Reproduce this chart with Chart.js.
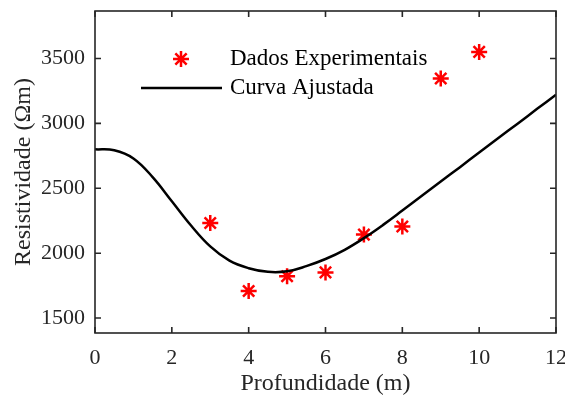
<!DOCTYPE html>
<html>
<head>
<meta charset="utf-8">
<script src="https://cdn.jsdelivr.net/npm/chart.js@4.4.1/dist/chart.umd.min.js"></script>
<style>
  html, body { margin: 0; padding: 0; background: #fff; }
  #wrap { width: 565px; height: 396px; }
</style>
</head>
<body>
<div id="wrap"><canvas id="resChart" width="565" height="396"></canvas></div>
<script>
// measured data (depth in m, resistivity in ohm.m)
const depth = [3, 4, 5, 6, 7, 8, 9, 10];
const resistivity = [2233, 1708, 1822, 1852, 2143, 2205, 3346, 3551];

// fitted curve
const fitDepth = [0, 0.5, 1, 1.5, 2, 2.5, 3, 3.5, 4, 4.5, 5, 5.5, 6, 6.5, 7, 7.5, 8, 8.5, 9, 9.5, 10, 10.5, 11, 11.5, 12];
const fitRes = [2800, 2793, 2730, 2586, 2400, 2213, 2052, 1942, 1884, 1856, 1860, 1900, 1955, 2026, 2116, 2218, 2328, 2440, 2552, 2663, 2775, 2887, 2998, 3110, 3221];

const xTicks = [0, 2, 4, 6, 8, 10, 12];
const yTicks = [1500, 2000, 2500, 3000, 3500];

const seriesNames = ['Dados Experimentais', 'Curva Ajustada'];

const AXIS_COLOR = '#262626';
const FONT = '"Liberation Serif", "Times New Roman", serif';

// box round the plot with ticks pointing inward, like matlab
const boxTicks = {
    id: 'boxTicks',
    afterDraw(chart) {
        const { ctx, chartArea: a, scales } = chart;
        const len = 6;
        ctx.save();
        ctx.strokeStyle = AXIS_COLOR;
        ctx.lineWidth = 1.6;
        ctx.strokeRect(a.left, a.top, a.right - a.left, a.bottom - a.top);
        ctx.beginPath();
        xTicks.forEach(v => {
            const px = scales.x.getPixelForValue(v);
            ctx.moveTo(px, a.bottom); ctx.lineTo(px, a.bottom - len);
            ctx.moveTo(px, a.top); ctx.lineTo(px, a.top + len);
        });
        yTicks.forEach(v => {
            const py = scales.y.getPixelForValue(v);
            ctx.moveTo(a.left, py); ctx.lineTo(a.left + len, py);
            ctx.moveTo(a.right, py); ctx.lineTo(a.right - len, py);
        });
        ctx.stroke();
        ctx.restore();
    }
};

// legend inside the plot, no frame
const innerLegend = {
    id: 'innerLegend',
    afterDraw(chart) {
        const { ctx, chartArea: a } = chart;
        const x0 = a.left + 46;
        const textX = a.left + 135;
        const y1 = a.top + 48;
        const y2 = a.top + 77;
        ctx.save();
        // star marker
        ctx.strokeStyle = '#ff0000';
        ctx.lineWidth = 2.5;
        const cx = x0 + 40, r = 8;
        ctx.beginPath();
        for (let i = 0; i < 4; i++) {
            const ang = i * Math.PI / 4;
            ctx.moveTo(cx - r * Math.cos(ang), y1 - r * Math.sin(ang));
            ctx.lineTo(cx + r * Math.cos(ang), y1 + r * Math.sin(ang));
        }
        ctx.stroke();
        // line sample
        ctx.strokeStyle = '#000';
        ctx.lineWidth = 2.5;
        ctx.beginPath();
        ctx.moveTo(x0, y2);
        ctx.lineTo(x0 + 81, y2);
        ctx.stroke();
        ctx.fillStyle = '#000';
        ctx.font = '23px ' + FONT;
        ctx.textBaseline = 'middle';
        ctx.fillText(seriesNames[0], textX, y1);
        ctx.fillText(seriesNames[1], textX, y2);
        ctx.restore();
    }
};

const ctx = document.getElementById('resChart').getContext('2d');
new Chart(ctx, {
    type: 'scatter',
    data: {
        datasets: [
            {
                label: seriesNames[1],
                data: fitDepth.map((d, i) => ({ x: d, y: fitRes[i] })),
                showLine: true,
                borderColor: '#000',
                borderWidth: 2.5,
                pointRadius: 0,
                tension: 0.4,
                fill: false
            },
            {
                label: seriesNames[0],
                data: depth.map((d, i) => ({ x: d, y: resistivity[i] })),
                pointStyle: 'star',
                pointRadius: 8,
                pointBorderWidth: 2.5,
                borderColor: '#ff0000',
                backgroundColor: '#ff0000'
            }
        ]
    },
    options: {
        responsive: false,
        animation: false,
        layout: {
            autoPadding: false,
            padding: { left: 0, right: 9, top: 11, bottom: 0 }
        },
        plugins: {
            legend: { display: false },
            tooltip: { enabled: false }
        },
        scales: {
            x: {
                type: 'linear',
                min: 0,
                max: 12,
                afterBuildTicks: s => { s.ticks = xTicks.map(v => ({ value: v })); },
                afterFit: s => {
                    s.height = 63;
                    s.paddingLeft = 0; s.paddingRight = 0;
                },
                grid: { display: false, drawTicks: false },
                border: { display: false },
                ticks: {
                    color: AXIS_COLOR,
                    padding: 12,
                    maxRotation: 0,
                    font: { family: FONT, size: 22 }
                },
                title: {
                    display: true,
                    text: 'Profundidade (m)',
                    color: AXIS_COLOR,
                    padding: { top: 0, bottom: 0 },
                    font: { family: FONT, size: 24, lineHeight: 1 }
                }
            },
            y: {
                type: 'linear',
                min: 1385,
                max: 3866,
                afterBuildTicks: s => { s.ticks = yTicks.map(v => ({ value: v })); },
                afterFit: s => {
                    s.width = 95;
                    s.paddingTop = 0; s.paddingBottom = 0;
                },
                grid: { display: false, drawTicks: false },
                border: { display: false },
                ticks: {
                    color: AXIS_COLOR,
                    padding: 10,
                    callback: v => String(v),
                    font: { family: FONT, size: 22 }
                },
                title: {
                    display: true,
                    text: 'Resistividade (Ωm)',
                    color: AXIS_COLOR,
                    padding: { top: 12, bottom: 0 },
                    font: { family: FONT, size: 24, lineHeight: 1 }
                }
            }
        }
    },
    plugins: [boxTicks, innerLegend]
});
</script>
</body>
</html>
